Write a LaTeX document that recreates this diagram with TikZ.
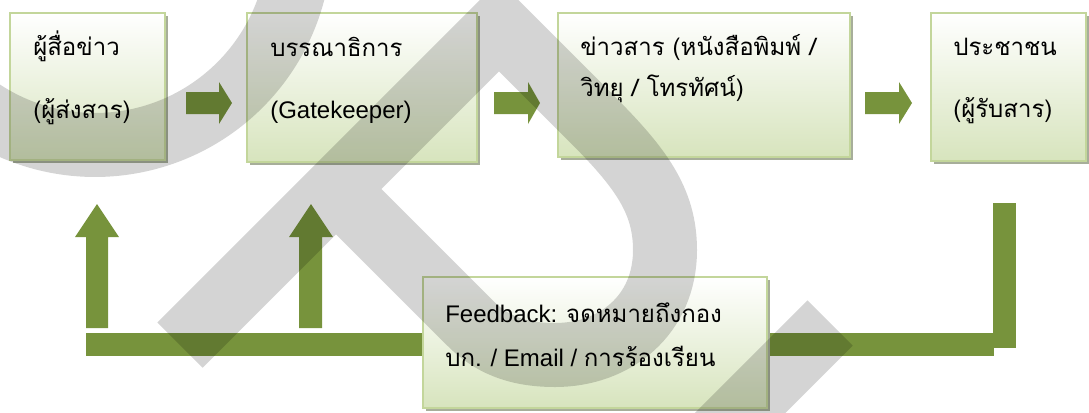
\documentclass[tikz,border=0pt]{standalone}
\usepackage{fontspec}
\setmainfont{Liberation Sans}
\newfontfamily\thai[Script=Thai]{Loma}
\usetikzlibrary{fit,shadows}
\definecolor{boxgreen}{HTML}{D7E4BD}
\definecolor{boxline}{HTML}{C3D69B}
\definecolor{arrowgreen}{HTML}{77933C}
\definecolor{shadowgray}{HTML}{A7AE9A}
\tikzset{
  stagebox/.style={draw=boxline, line width=1.5pt, top color=white, bottom color=boxgreen,
    inner sep=0pt, fit={#1},
    drop shadow={shadow xshift=2.25pt, shadow yshift=-2.5pt, fill=shadowgray, opacity=1}},
  boxtext/.style={anchor=base west, inner sep=0pt, font=\fontsize{18}{22}\selectfont},
  blockarrow/.style={fill=arrowgreen},
  watermark/.style={draw=black, draw opacity=0.17, line width=48pt, line cap=butt, line join=miter}
}
\begin{document}
\begin{tikzpicture}[x=0.75pt,y=-0.75pt]
\useasboundingbox (0,0) rectangle (1089,412);
% feedback bars
\fill[blockarrow] (86,333) rectangle (994,356);
\fill[blockarrow] (993,203) rectangle (1016,348);
% boxes
\node[stagebox={(10,13) (165,160)}] (b1) {};
\node[stagebox={(247,13) (477,162)}] (b2) {};
\node[stagebox={(558,13) (850,157)}] (b3) {};
\node[stagebox={(931,13) (1086,161)}] (b4) {};
\node[stagebox={(423,277) (767,408)}] (fb) {};
% texts
\node[boxtext] (t1a) at (33,55) {\thai ผู้สื่อข่าว};
\node[boxtext] (t1b) at (33,118) {\thai (ผู้ส่งสาร)};
\node[boxtext] (t2a) at (270,56) {\thai บรรณาธิการ};
\node[boxtext] (t2b) at (270,118) {(Gatekeeper)};
\node[boxtext] (t3a) at (580,55) {\thai ข่าวสาร (หนังสือพิมพ์ /};
\node[boxtext] (t3b) at (580,96) {\thai วิทยุ / โทรทัศน์)};
\node[boxtext] (t4a) at (953,55) {\thai ประชาชน};
\node[boxtext] (t4b) at (953,117) {\thai (ผู้รับสาร)};
\node[boxtext] (tfa) at (445,322) {Feedback: {\thai จดหมายถึงกอง}};
\node[boxtext] (tfb) at (445,366) {{\thai บก.} / Email / {\thai การร้องเรียน}};
% right block arrows
\fill[blockarrow] (186,92) -- (219,92) -- (219,82) -- (232,103) -- (219,124) -- (219,114) -- (186,114) -- cycle;
\fill[blockarrow] (494,92) -- (528,92) -- (528,82) -- (540,103) -- (528,124) -- (528,114) -- (494,114) -- cycle;
\fill[blockarrow] (865,92) -- (899,92) -- (899,82) -- (912,103) -- (899,124) -- (899,114) -- (865,114) -- cycle;
% up block arrows
\fill[blockarrow] (86,328) -- (86,237) -- (75,237) -- (97,204) -- (119,237) -- (108,237) -- (108,328) -- cycle;
\fill[blockarrow] (299,328) -- (299,237) -- (289,237) -- (311,204) -- (333,237) -- (322,237) -- (322,328) -- cycle;
% watermark
\begin{scope}
\clip (0,0) rectangle (1089,412);
\draw[watermark] (-22.6,107.9) arc[start angle=125, end angle=10, radius=205]
  (180,345) -- (499,26) -- (590,117) .. controls (640,167) and (665,200) .. (665,250)
  .. controls (665,315) and (615,355) .. (555,355) .. controls (515,355) and (490,343) .. (470,323) -- (336,189)
  (830,323) -- (690,463);
\end{scope}
\end{tikzpicture}
\end{document}
